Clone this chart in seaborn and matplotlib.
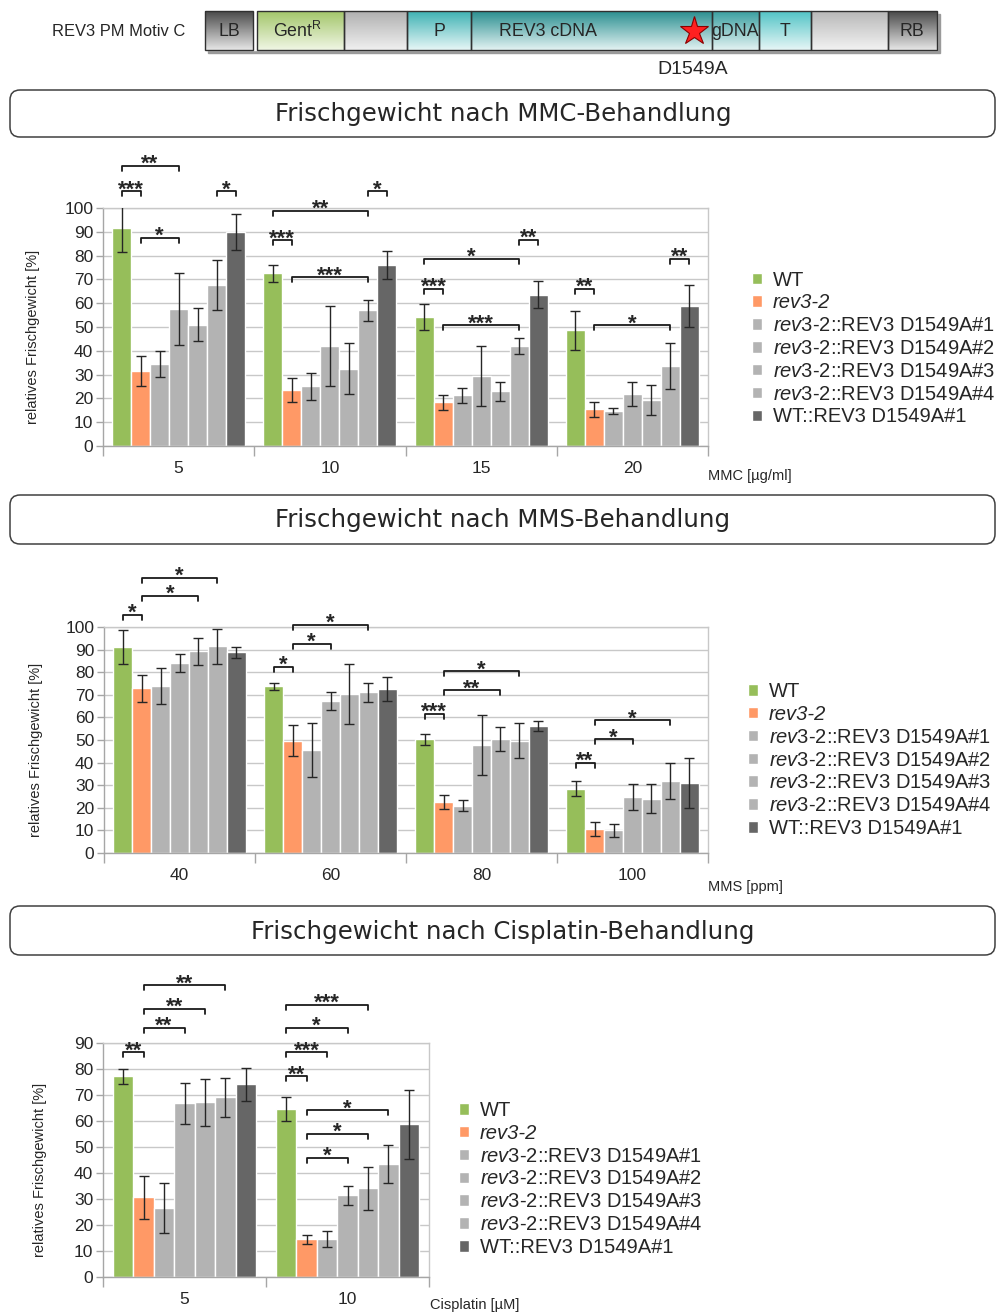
import numpy as np
import pandas as pd
import matplotlib
matplotlib.use("Agg")
import matplotlib.pyplot as plt
import seaborn as sns
from matplotlib.patches import FancyBboxPatch, Rectangle

# ---------------- data ----------------
genotypes = ["WT", "rev3-2", "rev3-2::REV3 D1549A#1", "rev3-2::REV3 D1549A#2",
             "rev3-2::REV3 D1549A#3", "rev3-2::REV3 D1549A#4", "WT::REV3 D1549A#1"]
legend_labels = ["WT", "rev3-2",
                 r"$\mathit{rev3}$-2::REV3 D1549A#1", r"$\mathit{rev3}$-2::REV3 D1549A#2",
                 r"$\mathit{rev3}$-2::REV3 D1549A#3", r"$\mathit{rev3}$-2::REV3 D1549A#4",
                 "WT::REV3 D1549A#1"]
colors = ["#96BE5A", "#FF9966", "#B3B3B3", "#B3B3B3", "#B3B3B3", "#B3B3B3", "#666666"]

mmc_doses = ["5", "10", "15", "20"]
mmc_mean = [[91.5, 72.5, 54.2, 48.7],
            [31.5, 23.5, 18.4, 15.4],
            [34.5, 25.0, 21.3, 14.6],
            [57.5, 42.0, 29.5, 21.8],
            [51.0, 32.5, 23.0, 19.4],
            [67.5, 57.0, 42.0, 33.6],
            [90.0, 76.0, 63.5, 58.8]]
mmc_sd = [[10.0, 3.5, 5.5, 8.2],
          [6.3, 5.2, 3.1, 3.2],
          [5.5, 5.8, 3.1, 1.2],
          [15.0, 16.8, 12.6, 5.2],
          [7.0, 10.8, 4.0, 6.3],
          [10.5, 4.5, 3.5, 9.5],
          [7.5, 5.8, 5.7, 8.7]]
mmc_sig = [(0, 0, 1, 107.0, "***"), (0, 0, 3, 117.8, "**"), (0, 1, 3, 87.4, "*"), (0, 5, 6, 107.0, "*"),
           (1, 0, 1, 86.4, "***"), (1, 0, 5, 98.9, "**"), (1, 1, 5, 70.9, "***"), (1, 5, 6, 107.0, "*"),
           (2, 0, 1, 66.0, "***"), (2, 0, 5, 78.7, "*"), (2, 1, 5, 50.8, "***"), (2, 5, 6, 86.7, "**"),
           (3, 0, 1, 66.0, "**"), (3, 1, 5, 50.8, "*"), (3, 5, 6, 78.7, "**")]

mms_doses = ["40", "60", "80", "100"]
mms_mean = [[91.0, 73.7, 50.4, 28.4],
            [72.9, 49.7, 22.6, 10.7],
            [73.8, 45.6, 20.9, 10.0],
            [84.0, 67.2, 47.8, 24.9],
            [89.3, 70.3, 50.4, 24.0],
            [91.5, 71.2, 49.7, 31.9],
            [88.8, 72.5, 56.2, 30.9]]
mms_sd = [[7.5, 1.5, 2.4, 3.3],
          [6.0, 6.8, 3.2, 3.2],
          [8.0, 11.9, 2.4, 2.7],
          [4.1, 4.1, 13.2, 5.7],
          [5.9, 13.2, 5.2, 6.4],
          [7.8, 4.2, 7.8, 8.1],
          [2.5, 5.4, 2.4, 11.1]]
mms_sig = [(0, 0, 1, 105.4, "*"), (0, 1, 4, 113.7, "*"), (0, 1, 5, 121.9, "*"),
           (1, 0, 1, 82.4, "*"), (1, 1, 3, 92.5, "*"), (1, 1, 5, 101.0, "*"),
           (2, 0, 1, 61.6, "***"), (2, 1, 4, 72.0, "**"), (2, 1, 5, 80.4, "*"),
           (3, 0, 1, 40.0, "**"), (3, 1, 3, 50.3, "*"), (3, 1, 5, 58.7, "*")]

cis_doses = ["5", "10"]
cis_mean = [[77.2, 64.7],
            [30.6, 14.5],
            [26.4, 14.7],
            [66.8, 31.4],
            [67.2, 34.1],
            [69.1, 43.3],
            [74.1, 58.7]]
cis_sd = [[2.9, 4.6],
          [8.2, 1.7],
          [9.6, 3.0],
          [7.8, 3.7],
          [9.0, 8.3],
          [7.4, 7.3],
          [6.3, 13.2]]
cis_sig = [(0, 0, 1, 86.5, "**"), (0, 1, 3, 95.8, "**"), (0, 1, 4, 103.2, "**"), (0, 1, 5, 112.2, "**"),
           (1, 0, 1, 77.2, "**"), (1, 0, 2, 86.5, "***"), (1, 0, 3, 95.8, "*"), (1, 0, 4, 104.7, "***"),
           (1, 1, 3, 45.8, "*"), (1, 1, 4, 55.0, "*"), (1, 1, 5, 64.2, "*")]

# ---------------- style ----------------
sns.set_style("white")
plt.rcParams["font.family"] = ["Liberation Sans", "DejaVu Sans"]
plt.rcParams["mathtext.fontset"] = "custom"
plt.rcParams["mathtext.rm"] = "Liberation Sans"
plt.rcParams["mathtext.it"] = "Liberation Sans:italic"

W, H = 997, 1314
fig = plt.figure(figsize=(W / 100, H / 100), dpi=100)
fig.patch.set_facecolor("white")


def px_rect(x0, y0, x1, y1):
    return [x0 / W, 1 - y1 / H, (x1 - x0) / W, (y1 - y0) / H]


# ---------------- canvas: construct + titles ----------------
cv = fig.add_axes([0, 0, 1, 1])
cv.set_xlim(0, W)
cv.set_ylim(H, 0)
cv.axis("off")


def grad(x0, x1, y0, y1, ctop, cbot):
    c1 = np.array(matplotlib.colors.to_rgb(ctop))
    c2 = np.array(matplotlib.colors.to_rgb(cbot))
    t = np.linspace(0, 1, 64)[:, None, None]
    img = c1[None, None, :] * (1 - t) + c2[None, None, :] * t
    cv.imshow(img, extent=(x0, x1, y1, y0), origin="upper", aspect="auto",
              interpolation="bilinear", zorder=2)
    cv.add_patch(Rectangle((x0, y0), x1 - x0, y1 - y0, fill=False,
                           edgecolor="#303030", lw=1, zorder=3))


by0, by1 = 11, 50
cv.add_patch(Rectangle((208, by0 + 3), 732, by1 - by0, color="#9a9a9a", zorder=1))
cv.add_patch(Rectangle((205, by0), 732, by1 - by0, color="white", zorder=1.5))
segs = [(205, 253, "#4a4a4a", "#e6e6e6"),
        (257, 344, "#a3c66a", "#f0f6e4"),
        (344, 407, "#b0b0b0", "#f0f0f0"),
        (407, 471, "#3fb2b4", "#e6f6f6"),
        (471, 712, "#2a8f90", "#e2f2f2"),
        (712, 759, "#3a9fa0", "#e2f2f2"),
        (759, 811, "#52c4c6", "#e6f6f6"),
        (811, 888, "#b8b8b8", "#f2f2f2"),
        (888, 937, "#4a4a4a", "#e6e6e6")]
for x0, x1, ct, cb in segs:
    grad(x0, x1, by0, by1, ct, cb)
cv.set_xlim(0, W)
cv.set_ylim(H, 0)
cv.text(52, 31, "REV3 PM Motiv C", fontsize=11.9, va="center", ha="left", zorder=4)
for xc, lab in [(229, "LB"), (298, r"Gent$^{\mathrm{R}}$"), (439, "P"), (548, "REV3 cDNA"),
                (735, "gDNA"), (785, "T"), (912, "RB")]:
    cv.text(xc, 31, lab, fontsize=12.8, va="center", ha="center", zorder=4)
cv.plot([694], [31], marker="*", markersize=21, color="#ff2020", mec="#8a0000", mew=0.8, zorder=5)
cv.text(693, 69, "D1549A", fontsize=14, va="center", ha="center")

for (y0, y1, title) in [(90, 137, "Frischgewicht nach MMC-Behandlung"),
                        (495, 544, "Frischgewicht nach MMS-Behandlung"),
                        (906, 955, "Frischgewicht nach Cisplatin-Behandlung")]:
    cv.add_patch(FancyBboxPatch((10, y0), 985, y1 - y0,
                                boxstyle="round,pad=0,rounding_size=10",
                                facecolor="white", edgecolor="#404040", lw=1.1, zorder=2))
    cv.text(503, (y0 + y1) / 2 + 1, title, fontsize=17.6, family="DejaVu Sans",
            ha="center", va="center", zorder=3)


# ---------------- panels ----------------
def panel(rect, doses, means, sds, sig, ymax, xlabel, xlab_xy, ylab_xy, leg_xy):
    ax = fig.add_axes(px_rect(*rect))
    rows = []
    for h, g in enumerate(genotypes):
        for c, d in enumerate(doses):
            rows.append({"dose": d, "genotype": g, "value": means[h][c]})
    df = pd.DataFrame(rows)
    sns.barplot(data=df, x="dose", y="value", hue="genotype", order=doses,
                hue_order=genotypes, palette=colors, width=0.88, saturation=1,
                edgecolor="white", linewidth=1, errorbar=None, ax=ax, zorder=2)
    handles, _ = ax.get_legend_handles_labels()
    if ax.legend_ is not None:
        ax.legend_.remove()
    bar_conts = list(ax.containers)[:len(genotypes)]
    centers = []
    for h, cont in enumerate(bar_conts):
        xs = [b.get_x() + b.get_width() / 2 for b in cont.patches]
        centers.append(xs)
    for h in range(len(genotypes)):
        ax.errorbar(centers[h], means[h], yerr=sds[h], fmt="none", ecolor="#262626",
                    elinewidth=1, capsize=3.3, capthick=1, zorder=3)
    n = len(doses)
    ax.set_xlim(-0.5, n - 0.5)
    ax.set_ylim(0, ymax)
    ax.set_yticks(np.arange(0, ymax + 1, 10))
    ax.set_xticks(range(n))
    ax.set_xticks(np.arange(-0.5, n), minor=True)
    ax.tick_params(axis="x", which="major", length=0, pad=11, labelsize=12.5)
    ax.tick_params(axis="x", which="minor", length=7, color="#A6A6A6", width=1, bottom=True)
    ax.tick_params(axis="y", length=5, color="#A6A6A6", width=1, pad=2, labelsize=12.5, left=True)
    ax.yaxis.grid(True, color="#C8C8C8", lw=1)
    ax.xaxis.grid(False)
    ax.set_axisbelow(True)
    for s in ax.spines.values():
        s.set_visible(True)
        s.set_color("#C8C8C8")
        s.set_linewidth(1)
    ax.spines["left"].set_color("#A6A6A6")
    ax.spines["bottom"].set_color("#A6A6A6")
    ax.set_xlabel("")
    ax.set_ylabel("")
    fig.text(ylab_xy[0] / W, 1 - ylab_xy[1] / H, "relatives Frischgewicht [%]",
             rotation=90, ha="center", va="center", fontsize=10.5)
    fig.text(xlab_xy[0] / W, 1 - xlab_xy[1] / H, xlabel, ha="left", va="center", fontsize=10.5)
    # significance brackets
    ax_h = rect[3] - rect[1]
    d = 5.0 / ax_h * ymax
    for (g, i, j, y, lab) in sig:
        x1, x2 = centers[i][g], centers[j][g]
        ax.plot([x1, x1, x2, x2], [y - d, y, y, y - d], color="#1a1a1a", lw=1.3,
                clip_on=False, zorder=4)
        ax.annotate(lab, ((x1 + x2) / 2, y), xytext=(0, -3.0), textcoords="offset points",
                    ha="center", va="baseline", fontsize=16, fontweight="bold",
                    annotation_clip=False, zorder=4)
    leg = ax.legend(handles, legend_labels, loc="center left",
                    bbox_to_anchor=(leg_xy[0] / W, 1 - leg_xy[1] / H),
                    bbox_transform=fig.transFigure, frameon=False, fontsize=14.5,
                    handlelength=0.5, handleheight=0.5, handletextpad=0.55,
                    labelspacing=0.19, borderpad=0, borderaxespad=0)
    leg.get_texts()[1].set_fontstyle("italic")
    return ax


panel((103, 208, 708, 446), mmc_doses, mmc_mean, mmc_sd, mmc_sig, 100,
      "MMC [µg/ml]", (708, 476), (33, 337), (752, 348.5))
panel((104, 627, 708, 853), mms_doses, mms_mean, mms_sd, mms_sig, 100,
      "MMS [ppm]", (708, 887), (36, 750), (748, 760))
panel((103, 1043, 429, 1277), cis_doses, cis_mean, cis_sd, cis_sig, 90,
      "Cisplatin [µM]", (430, 1305), (40, 1170), (459, 1179))

fig.savefig("out.png", dpi=100, facecolor="white")
